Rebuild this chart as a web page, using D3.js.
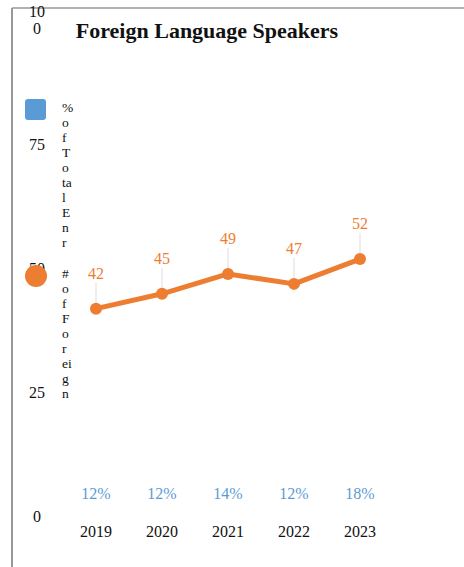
<!DOCTYPE html>
<html>
<head>
<meta charset="utf-8">
<script src="https://cdn.jsdelivr.net/npm/d3@7"></script>
<style>
  body { margin: 0; background: #fff; }
  svg { display: block; font-family: "Liberation Serif", serif; }
</style>
</head>
<body>
<svg id="chart" width="464" height="567"></svg>
<script>
// data
const years = ["2019", "2020", "2021", "2022", "2023"];
const speakers = [42, 45, 49, 47, 52];
const pctTotal = ["12%", "12%", "14%", "12%", "18%"];
const yTicks = [0, 25, 50, 75, 100];
// legend text as it wraps in the narrow legend box
const legendPct = ["%", "o", "f", "T", "o", "ta", "l", "E", "n", "r"];
const legendNum = ["#", "o", "f", "F", "o", "r", "ei", "g", "n"];

const orange = "#ed7d31";
const blue = "#5b9bd5";

const svg = d3.select("#chart");

// frame lines
svg.append("line").attr("x1", 12).attr("x2", 12).attr("y1", 8).attr("y2", 567)
    .attr("stroke", "#999").attr("stroke-width", 2);
svg.append("line").attr("x1", 12).attr("x2", 464).attr("y1", 8).attr("y2", 8)
    .attr("stroke", "#999").attr("stroke-width", 1.5);

// scales
const x = d3.scalePoint().domain(years).range([96, 360]);
const y = d3.scaleLinear().domain([0, 100]).range([517, 21]);

// y tick labels (no axis line)
const yt = svg.append("g");
yTicks.forEach(function (t) {
    const txt = yt.append("text")
        .attr("x", 37)
        .attr("text-anchor", "middle")
        .attr("font-size", 16)
        .attr("fill", "#111");
    if (t === 100) {
        txt.append("tspan").attr("x", 37).attr("y", y(t) - 4).text("10");
        txt.append("tspan").attr("x", 37).attr("y", y(t) + 13).text("0");
    } else {
        txt.attr("y", y(t) + 5).text(t);
    }
});

// title
svg.append("text")
    .attr("x", 207).attr("y", 38)
    .attr("text-anchor", "middle")
    .attr("font-size", 22).attr("font-weight", "bold")
    .attr("fill", "#111")
    .text("Foreign Language Speakers");

// legend
svg.append("rect")
    .attr("x", 25).attr("y", 99).attr("width", 21).attr("height", 21)
    .attr("rx", 3).attr("fill", blue);
svg.append("g").selectAll("text").data(legendPct).join("text")
    .attr("font-size", 13.5).attr("fill", "#111")
    .attr("x", 62).attr("y", (d, i) => 112 + i * 15)
    .text(d => d);

svg.append("circle")
    .attr("cx", 36).attr("cy", 276).attr("r", 11).attr("fill", orange);
svg.append("g").selectAll("text").data(legendNum).join("text")
    .attr("font-size", 13.5).attr("fill", "#111")
    .attr("x", 62).attr("y", (d, i) => 278 + i * 15)
    .text(d => d);

// drop lines from labels to points
svg.append("g").selectAll("line").data(speakers).join("line")
    .attr("x1", (d, i) => x(years[i])).attr("x2", (d, i) => x(years[i]))
    .attr("y1", d => y(d) - 26).attr("y2", d => y(d))
    .attr("stroke", "#ddd").attr("stroke-width", 1);

// line
const line = d3.line()
    .x((d, i) => x(years[i]))
    .y(d => y(d));
svg.append("path")
    .datum(speakers)
    .attr("d", line)
    .attr("fill", "none")
    .attr("stroke", orange)
    .attr("stroke-width", 5)
    .attr("stroke-linejoin", "round");

svg.append("g").selectAll("circle").data(speakers).join("circle")
    .attr("cx", (d, i) => x(years[i]))
    .attr("cy", d => y(d))
    .attr("r", 6)
    .attr("fill", orange);

// value labels
svg.append("g").selectAll("text").data(speakers).join("text")
    .attr("x", (d, i) => x(years[i]))
    .attr("y", d => y(d) - 30)
    .attr("text-anchor", "middle")
    .attr("font-size", 16)
    .attr("fill", orange)
    .text(d => d);

// percent row
svg.append("g").selectAll("text").data(pctTotal).join("text")
    .attr("x", (d, i) => x(years[i]))
    .attr("y", 499)
    .attr("text-anchor", "middle")
    .attr("font-size", 16)
    .attr("fill", blue)
    .text(d => d);

// x labels
svg.append("g").selectAll("text").data(years).join("text")
    .attr("x", d => x(d))
    .attr("y", 537)
    .attr("text-anchor", "middle")
    .attr("font-size", 16)
    .attr("fill", "#111")
    .text(d => d);
</script>
</body>
</html>
